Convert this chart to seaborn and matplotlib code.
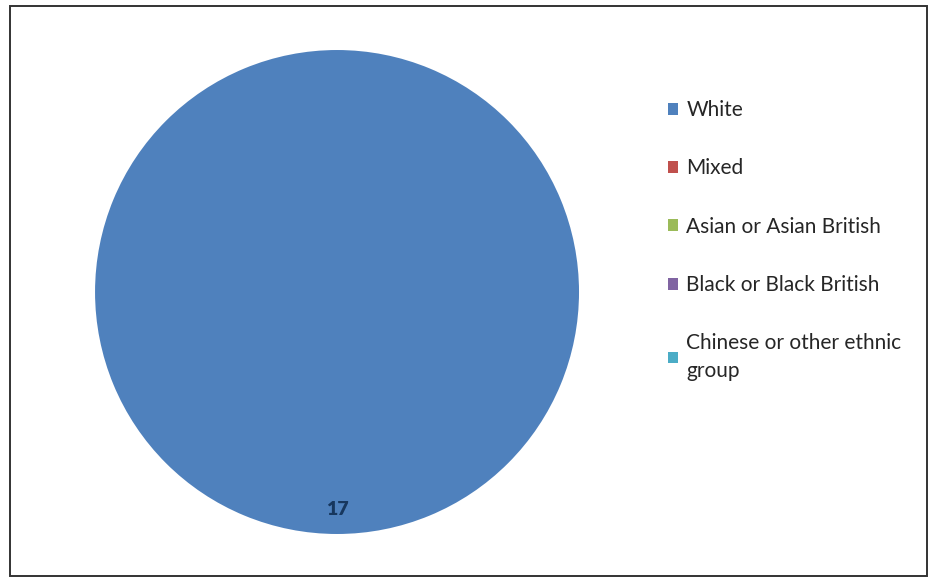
import matplotlib
matplotlib.use('Agg')
import matplotlib.pyplot as plt
import seaborn as sns
from matplotlib.patches import Rectangle

# data
groups = ['White', 'Mixed', 'Asian or Asian British', 'Black or Black British',
          'Chinese or other ethnic group']
legend_labels = ['White', 'Mixed', 'Asian or Asian British', 'Black or Black British',
                 'Chinese or other ethnic\ngroup']
counts = [17, 0, 0, 0, 0]
colours = ['#4F81BD', '#C0504D', '#9BBB59', '#8064A2', '#4BACC6']

sns.set_style('white')
plt.rcParams['font.family'] = ['Lato', 'DejaVu Sans']

fig = plt.figure(figsize=(9.3, 5.78), dpi=100)
ax = fig.add_axes([0.1022, 0.0761, 0.5204, 0.8374])

def label_fmt(pct):
    val = pct * sum(counts) / 100.0
    return '%d' % round(val) if val > 0 else ''

wedges, texts, autotexts = ax.pie(counts, colors=sns.color_palette(colours),
                                  startangle=90, counterclock=False,
                                  autopct=label_fmt, pctdistance=0.9,
                                  wedgeprops={'linewidth': 0, 'edgecolor': 'none'},
                                  textprops={'fontsize': 14, 'color': '#17375E',
                                             'fontweight': 'heavy'})
ax.set_xlim(-1, 1)
ax.set_ylim(-1, 1)
ax.set_aspect('equal')

leg = fig.legend(wedges, legend_labels, loc='upper left', bbox_to_anchor=(0.718, 0.827),
                 frameon=False, fontsize=15, handlelength=0.5, handleheight=0.5,
                 handletextpad=0.4, labelspacing=1.84, borderpad=0, borderaxespad=0)
for t in leg.get_texts():
    t.set_linespacing(1.45)

# outer frame
fig.patches.append(Rectangle((0.0108, 0.0035), 0.986, 0.986, transform=fig.transFigure,
                             fill=False, edgecolor='#333333', linewidth=1.4))

fig.savefig('out.png', dpi=100)
